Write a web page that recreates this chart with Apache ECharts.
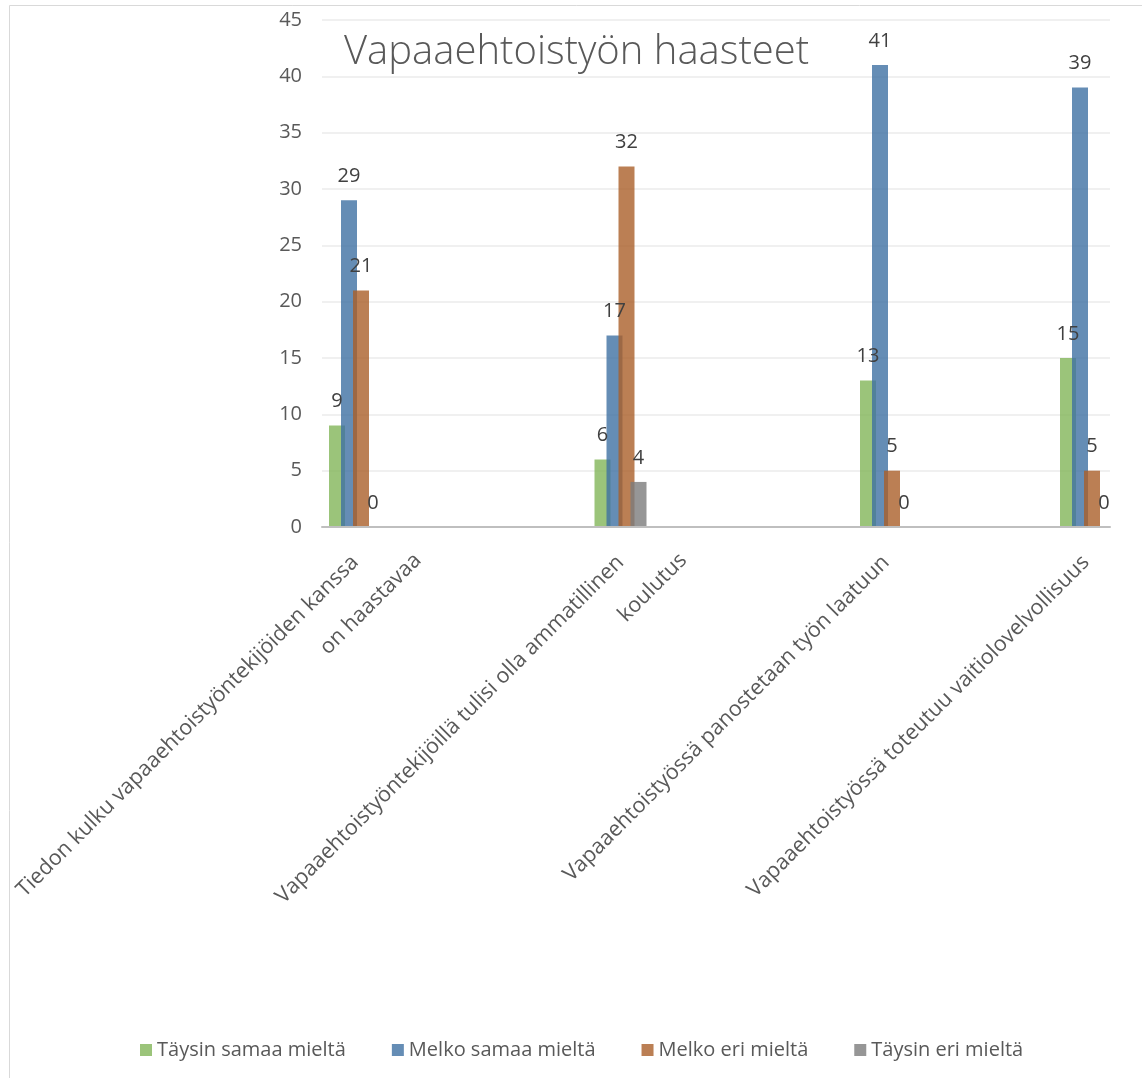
<!DOCTYPE html>
<html><head><meta charset="utf-8">
<script src="https://cdn.jsdelivr.net/npm/echarts@6/dist/echarts.min.js"></script>
<style>html,body{margin:0;padding:0;background:#fff}#c{width:1142px;height:1078px}</style>
</head><body><div id="c"></div>
<script>
const categories = [
  'Tiedon kulku vapaaehtoistyöntekijöiden kanssa\non haastavaa',
  'Vapaaehtoistyöntekijöillä tulisi olla ammatillinen\nkoulutus',
  'Vapaaehtoistyössä panostetaan työn laatuun',
  'Vapaaehtoistyössä toteutuu vaitiolovelvollisuus'
];
const seriesNames = ['Täysin samaa mieltä', 'Melko samaa mieltä', 'Melko eri mieltä', 'Täysin eri mieltä'];
const taysinSamaa = [9, 6, 13, 15];
const melkoSamaa = [29, 17, 41, 39];
const melkoEri = [21, 32, 5, 5];
const taysinEri = [0, 4, 0, 0];
const yMin = 0, yMax = 45, yStep = 5;

const values = [taysinSamaa, melkoSamaa, melkoEri, taysinEri];
const colors = ['rgba(130,181,89,0.8)', 'rgba(62,112,162,0.8)', 'rgba(170,95,41,0.8)', 'rgba(124,124,124,0.8)'];
const FONT = 'Open Sans';

const labelRich = {
  e: { fontFamily: FONT, fontSize: 21.5, lineHeight: 43, color: '#595959' },
  a: { fontFamily: FONT, fontSize: 21.5, lineHeight: 43, color: '#595959', align: 'right' },
  b: { fontFamily: FONT, fontSize: 21.5, lineHeight: 43, color: '#595959', align: 'right', padding: [0, -46, 0, 0] }
};
function catLabel(v) {
  const parts = v.split('\n');
  if (parts.length === 1) return '{a|' + v + '}';
  return '{e| }\n{a|' + parts[0] + '}\n{b|' + parts[1] + '}';
}
function catAxis(gridIndex, data) {
  return {
    gridIndex, type: 'category', data,
    axisLine: { show: false }, axisTick: { show: false },
    axisLabel: { interval: 0, rotate: 45, margin: 32, formatter: catLabel, rich: labelRich, lineHeight: 43, fontFamily: FONT, fontSize: 21.5, color: '#595959' }
  };
}
function hiddenY(gridIndex) {
  return { gridIndex, type: 'value', min: yMin, max: yMax, interval: yStep, show: false };
}

const series = [];
[[1, 0, 3], [2, 3, 4]].forEach(([gi, s, e]) => {
  values.forEach((arr, k) => {
    series.push({
      name: seriesNames[k], type: 'bar', xAxisIndex: gi, yAxisIndex: gi,
      data: arr.slice(s, e), barWidth: 16, barGap: '-25%',
      itemStyle: { color: colors[k] },
      label: { show: true, position: 'top', distance: 14, fontFamily: FONT, fontSize: 20, color: '#404040' }
    });
  });
});

const gridBase = { top: 20, bottom: 551, containLabel: false, outerBoundsMode: 'none' };
const chart = echarts.init(document.getElementById('c'));
chart.setOption({
  animation: false,
  backgroundColor: '#fff',
  title: { text: 'Vapaaehtoistyön haasteet', left: 339, top: 28,
    textStyle: { fontFamily: FONT, fontSize: 40, fontWeight: 300, color: '#595959' } },
  legend: { data: seriesNames, left: 135, top: 1035, itemWidth: 12, itemHeight: 12, itemGap: 46, icon: 'rect',
    textStyle: { fontFamily: FONT, fontSize: 20, color: '#595959' } },
  graphic: [{ type: 'rect', shape: { x: 9.5, y: 5.5, width: 1300, height: 1300 }, style: { fill: 'none', stroke: '#d9d9d9', lineWidth: 1 }, silent: true }],
  grid: [
    Object.assign({ left: 322, right: 32 }, gridBase),
    Object.assign({ left: 222.25, width: 796.5 }, gridBase),
    Object.assign({ left: 986, width: 200 }, gridBase)
  ],
  xAxis: [
    { gridIndex: 0, type: 'value', min: 0, max: 1, z: 5, axisLine: { show: true, lineStyle: { color: '#bfbfbf', width: 2 } },
      axisTick: { show: false }, axisLabel: { show: false }, splitLine: { show: false } },
    catAxis(1, categories.slice(0, 3)),
    catAxis(2, categories.slice(3))
  ],
  yAxis: [
    { gridIndex: 0, type: 'value', min: yMin, max: yMax, interval: yStep,
      axisLine: { show: false }, axisTick: { show: false },
      axisLabel: { margin: 20, fontFamily: FONT, fontSize: 20, color: '#595959' },
      splitLine: { lineStyle: { color: '#ebebeb', width: 1.5 } } },
    hiddenY(1), hiddenY(2)
  ],
  series
});
</script></body></html>
